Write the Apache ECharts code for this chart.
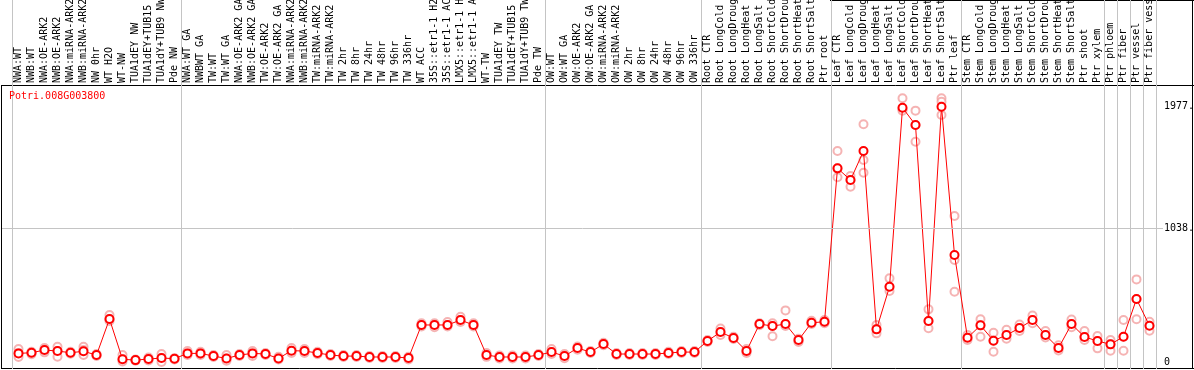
<!DOCTYPE html>
<html>
<head>
<meta charset="utf-8">
<script src="https://cdn.jsdelivr.net/npm/echarts@6/dist/echarts.min.js"></script>
<style>
html, body { margin: 0; padding: 0; background: #fff; }
#main { width: 1194px; height: 370px; }
</style>
</head>
<body>
<div id="main"></div>
<script>
var geneName = 'Potri.008G003800'

var samples = [
    'NWA:WT', 'NWB:WT', 'NWA:OE-ARK2', 'NWB:OE-ARK2', 'NWA:miRNA-ARK2', 'NWB:miRNA-ARK2', 'NW 0hr', 'WT H2O', 'WT-NW',
    'TUA1dEY NW', 'TUA1dEY+TUB15 NW', 'TUA1dY+TUB9 NW', 'Pde NW',
    'NWA:WT GA', 'NWBWT GA', 'TW:WT', 'TW:WT GA', 'NWA:OE-ARK2 GA', 'NWB:OE-ARK2 GA', 'TW:OE-ARK2', 'TW:OE-ARK2 GA',
    'NWA:miRNA-ARK2 GA', 'NWB:miRNA-ARK2 GA', 'TW:miRNA-ARK2', 'TW:miRNA-ARK2 GA', 'TW 2hr', 'TW 8hr', 'TW 24hr', 'TW 48hr',
    'TW 96hr', 'TW 336hr', 'WT ACC', '35S::etr1-1 H2O', '35S::etr1-1 ACC', 'LMX5::etr1-1 H2O', 'LMX5::etr1-1 ACC', 'WT-TW',
    'TUA1dEY TW', 'TUA1dEY+TUB15 TW', 'TUA1dY+TUB9 TW', 'Pde TW',
    'OW:WT', 'OW:WT GA', 'OW:OE-ARK2', 'OW:OE-ARK2 GA', 'OW:miRNA-ARK2', 'OW:miRNA-ARK2 GA', 'OW 2hr', 'OW 8hr', 'OW 24hr',
    'OW 48hr', 'OW 96hr', 'OW 336hr',
    'Root CTR', 'Root LongCold', 'Root LongDrought', 'Root LongHeat', 'Root LongSalt', 'Root ShortCold', 'Root ShortDrought',
    'Root ShortHeat', 'Root ShortSalt', 'Ptr root',
    'Leaf CTR', 'Leaf LongCold', 'Leaf LongDrought', 'Leaf LongHeat', 'Leaf LongSalt', 'Leaf ShortCold', 'Leaf ShortDrought',
    'Leaf ShortHeat', 'Leaf ShortSalt', 'Ptr leaf',
    'Stem CTR', 'Stem LongCold', 'Stem LongDrought', 'Stem LongHeat', 'Stem LongSalt', 'Stem ShortCold', 'Stem ShortDrought',
    'Stem ShortHeat', 'Stem ShortSalt', 'Ptr shoot', 'Ptr xylem',
    'Ptr phloem', 'Ptr fiber', 'Ptr vessel', 'Ptr fiber vessel'
]

// first sample of each block (a grey line is drawn left of it)
var groupStarts = [0, 13, 41, 53, 63, 73, 84, 85, 86, 87]

var meanValues = [
    67, 72, 93, 85, 72, 83, 54, 333, 21, 15, 23, 31, 26,
    67, 67, 46, 28, 54, 67, 62, 28, 88, 85, 70, 54, 46, 46, 39, 39, 39, 31, 287, 287, 287, 325, 287, 54, 39, 39, 39, 54,
    77, 46, 108, 77, 139, 62, 62, 62, 62, 70, 77, 77,
    163, 232, 186, 85, 294, 279, 294, 170, 304, 312,
    1500, 1410, 1634, 253, 583, 1970, 1836, 318, 1977, 829,
    188, 284, 165, 209, 263, 325, 209, 108, 294, 194, 163,
    137, 196, 488, 281
]

var rep1 = [
    100, 80, 108, 118, 80, 118, 62, 364, 54, 20, 35, 62, 30,
    85, 80, 54, 54, 62, 85, 70, 40, 108, 100, 80, 62, 54, 54, 46, 46, 46, 40, 300, 300, 310, 350, 300, 70, 50, 50, 50, 62,
    100, 62, 120, 85, 150, 70, 70, 70, 70, 80, 85, 85,
    170, 260, 195, 100, 300, 300, 400, 180, 320, 325,
    1634, 1441, 1841, 287, 648, 2043, 1947, 408, 2043, 1131,
    209, 331, 227, 250, 290, 360, 240, 130, 330, 240, 201,
    170, 325, 640, 312
]

var rep2 = [
    69, 72, 93, 85, 72, 93, 54, 333, 21, 15, 23, 31, 26,
    67, 67, 46, 28, 54, 67, 62, 28, 88, 85, 70, 54, 46, 46, 39, 39, 39, 31, 287, 287, 287, 325, 287, 54, 39, 39, 39, 54,
    77, 46, 108, 77, 139, 62, 62, 62, 62, 70, 77, 77,
    163, 232, 186, 85, 294, 279, 294, 163, 304, 312,
    1500, 1410, 1565, 253, 583, 1960, 1836, 318, 2016, 790,
    188, 284, 165, 209, 263, 325, 209, 108, 294, 194, 163,
    137, 196, 488, 281
]

var rep3 = [
    39, 60, 75, 41, 64, 54, 46, 318, 5, 10, 12, 0, 20,
    54, 54, 39, 10, 46, 46, 54, 20, 70, 70, 60, 46, 39, 39, 32, 32, 32, 20, 275, 270, 275, 310, 275, 40, 28, 28, 28, 46,
    62, 30, 95, 70, 130, 54, 54, 54, 54, 62, 70, 70,
    155, 210, 178, 70, 285, 200, 280, 155, 295, 300,
    1431, 1358, 1466, 222, 550, 1947, 1706, 261, 1913, 545,
    170, 196, 80, 180, 240, 300, 190, 90, 270, 170, 106,
    88, 88, 331, 242
]

var tickValues = [0, 1038, 1977]
var tickLabels = ['0', '1038.', '1977.']

var font = 'DejaVu Sans Mono'

var repData = []
for (var i = 0; i < samples.length; i++) {
    repData.push([i, rep1[i]], [i, rep2[i]], [i, rep3[i]])
}

var myChart = echarts.init(document.getElementById('main'))
myChart.setOption({
    animation: false,
    title: {
        text: geneName,
        left: 9,
        top: 91,
        padding: 0,
        textStyle: { color: '#ff0000', fontFamily: font, fontSize: 10, fontWeight: 'normal' }
    },
    grid: [
        { left: 12, right: 38, top: 0, bottom: 1, outerBoundsMode: 'none', containLabel: false },
        { left: 2, right: 31, top: 0, bottom: 1, outerBoundsMode: 'none', containLabel: false }   // only for the value guides
    ],
    xAxis: [
        {
            type: 'category',
            data: samples,
            position: 'top',
            offset: -85,
            boundaryGap: true,
            axisLine: { show: false },
            axisTick: { show: false },
            axisLabel: {
                interval: 0,
                rotate: 90,
                margin: 2,
                color: '#000',
                fontFamily: font,
                fontSize: 10
            },
            splitLine: {
                show: true,
                interval: function (index) {
                    return groupStarts.indexOf(index) >= 0
                },
                lineStyle: { color: '#c4c4c4', width: 1 }
            }
        },
        { type: 'value', gridIndex: 1, min: 0, max: 1, show: false }
    ],
    yAxis: [
        { type: 'value', min: -54, max: 2804, show: false },
        { type: 'value', gridIndex: 1, min: -54, max: 2804, show: false }
    ],
    graphic: [
        { type: 'line', shape: { x1: 1.5, y1: 85, x2: 1.5, y2: 369 }, style: { stroke: '#000', lineWidth: 1 } },
        { type: 'line', shape: { x1: 1, y1: 85.5, x2: 1194, y2: 85.5 }, style: { stroke: '#000', lineWidth: 1 } },
        { type: 'line', shape: { x1: 1, y1: 368.5, x2: 1194, y2: 368.5 }, style: { stroke: '#000', lineWidth: 1 } },
        { type: 'line', shape: { x1: 1192.5, y1: 0, x2: 1192.5, y2: 369 }, style: { stroke: '#000', lineWidth: 1 } },
        { type: 'line', shape: { x1: 830, y1: 0.5, x2: 1194, y2: 0.5 }, style: { stroke: '#000', lineWidth: 1 } }
    ],
    series: [
        {
            type: 'line',
            xAxisIndex: 1,
            yAxisIndex: 1,
            data: [],
            silent: true,
            markLine: {
                silent: true,
                symbol: 'none',
                label: {
                    position: 'end',
                    distance: 1,
                    color: '#000',
                    fontFamily: font,
                    fontSize: 10,
                    formatter: '{b}'
                },
                data: tickValues.map(function (v, i) {
                    return {
                        yAxis: v,
                        name: tickLabels[i],
                        lineStyle: { color: v === 1038 ? '#c4c4c4' : 'rgba(0,0,0,0)', width: 1, type: 'solid' }
                    }
                })
            }
        },
        {
            type: 'scatter',
            name: 'replicates',
            data: repData,
            symbol: 'emptyCircle',
            symbolSize: 8,
            silent: true,
            itemStyle: { color: '#f2a0a0', borderWidth: 1 },
            z: 2
        },
        {
            type: 'line',
            name: 'mean',
            data: meanValues,
            symbol: 'emptyCircle',
            symbolSize: 8,
            showAllSymbol: true,
            lineStyle: { color: '#ff0000', width: 1 },
            itemStyle: { color: '#ff0000', borderWidth: 1.5 },
            z: 3
        }
    ]
})
</script>
</body>
</html>
